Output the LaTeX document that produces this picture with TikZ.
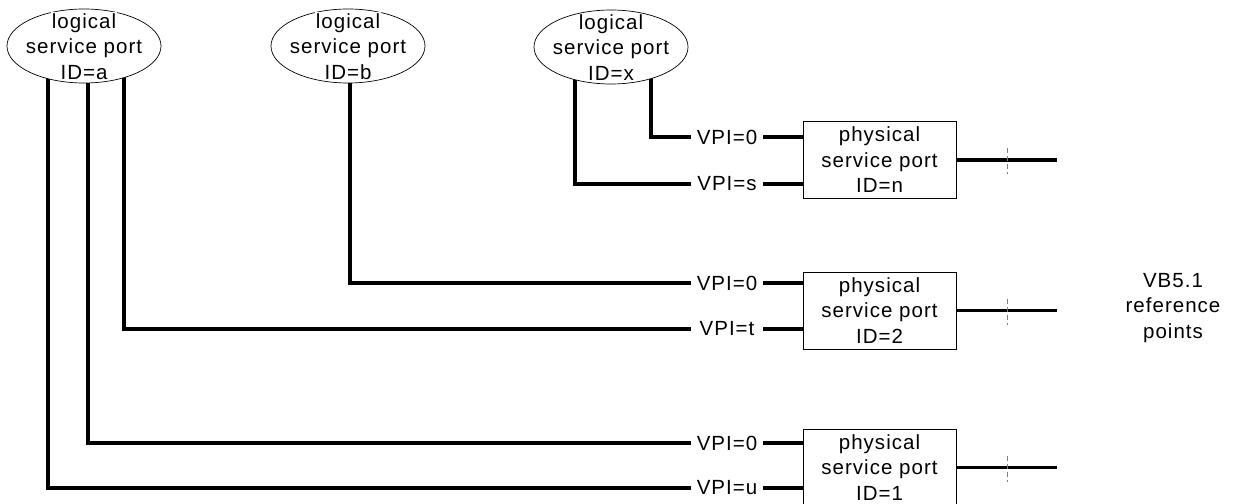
\documentclass[tikz,border=0pt]{standalone}
\usepackage{fontspec}
\setmainfont{Liberation Sans}[LetterSpace=5]
\setlength{\fboxsep}{1pt}
\usetikzlibrary{shapes, calc, positioning, backgrounds}

\begin{document}
\begin{tikzpicture}[
    x=1pt, y=-1pt,
    font=\fontsize{20.5}{25.5}\selectfont,
    wire/.style={draw, line width=3.6pt},
    logical/.style={ellipse, draw, line width=0.7pt, fill=white,
        minimum width=154, minimum height=74, inner sep=0},
    logicaltext/.style={align=center, inner sep=0},
    physical/.style={rectangle, draw, line width=0.9pt, fill=white,
        minimum width=153, minimum height=77, align=center, inner sep=0},
    vpi/.style={inner sep=0, minimum width=72, minimum height=20},
    refmark/.style={draw, gray, line width=0.8pt, dash pattern=on 5pt off 3pt}
]
\useasboundingbox (0,0) rectangle (1233,503);

\node (LogicalA) [logical] at (84,46) {};
\node (LogicalAText) [logicaltext] at (LogicalA.center) {\colorbox{white}{logical}\\service port\\ID=a};
\node (LogicalB) [logical] at (348,46) {};
\node (LogicalBText) [logicaltext] at (LogicalB.center) {\colorbox{white}{logical}\\service port\\ID=b};
\node (LogicalX) [logical] at (611,47) {};
\node (LogicalXText) [logicaltext] at (LogicalX.center) {\colorbox{white}{logical}\\service port\\ID=x};

\node (PhysicalN) [physical] at (879.5,160) {physical\\service port\\ID=n};
\node (Physical2) [physical] at (879.5,310.5) {physical\\service port\\ID=2};
\node (Physical1) [physical] at (879.5,467.5) {physical\\service port\\ID=1};

\node (VpiN0) [vpi] at (727,137) {VPI=0};
\node (VpiNs) [vpi] at (727,184) {VPI=s};
\node (Vpi20) [vpi] at (727,283) {VPI=0};
\node (Vpi2t) [vpi] at (727,329) {VPI=t};
\node (Vpi10) [vpi] at (727,443) {VPI=0};
\node (Vpi1u) [vpi] at (727,488) {VPI=u};

\node (RefPoints) [align=center] at (1173,308) {VB5.1\\reference\\points};

\coordinate (RefN) at ([xshift=101pt]PhysicalN.east);
\coordinate (Ref2) at ([xshift=101pt]Physical2.east);
\coordinate (Ref1) at ([xshift=101pt]Physical1.east);
\coordinate (MarkN) at ($(PhysicalN.east)!0.5!(RefN)$);
\coordinate (Mark2) at ($(Physical2.east)!0.5!(Ref2)$);
\coordinate (Mark1) at ($(Physical1.east)!0.5!(Ref1)$);

\begin{scope}[on background layer]
\draw[wire] (VpiN0.west) -| ([xshift=40pt]LogicalX.center);
\draw[wire] (VpiNs.west) -| ([xshift=-36pt]LogicalX.center);
\draw[wire] (Vpi20.west) -| ([xshift=2pt]LogicalB.center);
\draw[wire] (Vpi2t.west) -| ([xshift=40pt]LogicalA.center);
\draw[wire] (Vpi10.west) -| ([xshift=4pt]LogicalA.center);
\draw[wire] (Vpi1u.west) -| ([xshift=-36pt]LogicalA.center);

\draw[wire] (VpiN0.east) -- (VpiN0.east -| PhysicalN.west);
\draw[wire] (VpiNs.east) -- (VpiNs.east -| PhysicalN.west);
\draw[wire] (Vpi20.east) -- (Vpi20.east -| Physical2.west);
\draw[wire] (Vpi2t.east) -- (Vpi2t.east -| Physical2.west);
\draw[wire] (Vpi10.east) -- (Vpi10.east -| Physical1.west);
\draw[wire] (Vpi1u.east) -- (Vpi1u.east -| Physical1.west);

\draw[wire] (PhysicalN.east) -- (RefN);
\draw[wire] (Physical2.east) -- (Ref2);
\draw[wire] (Physical1.east) -- (Ref1);
\end{scope}

\draw[refmark] ([yshift=12pt]MarkN) -- ([yshift=-14pt]MarkN);
\draw[refmark] ([yshift=12pt]Mark2) -- ([yshift=-14pt]Mark2);
\draw[refmark] ([yshift=12pt]Mark1) -- ([yshift=-14pt]Mark1);

\end{tikzpicture}
\end{document}
